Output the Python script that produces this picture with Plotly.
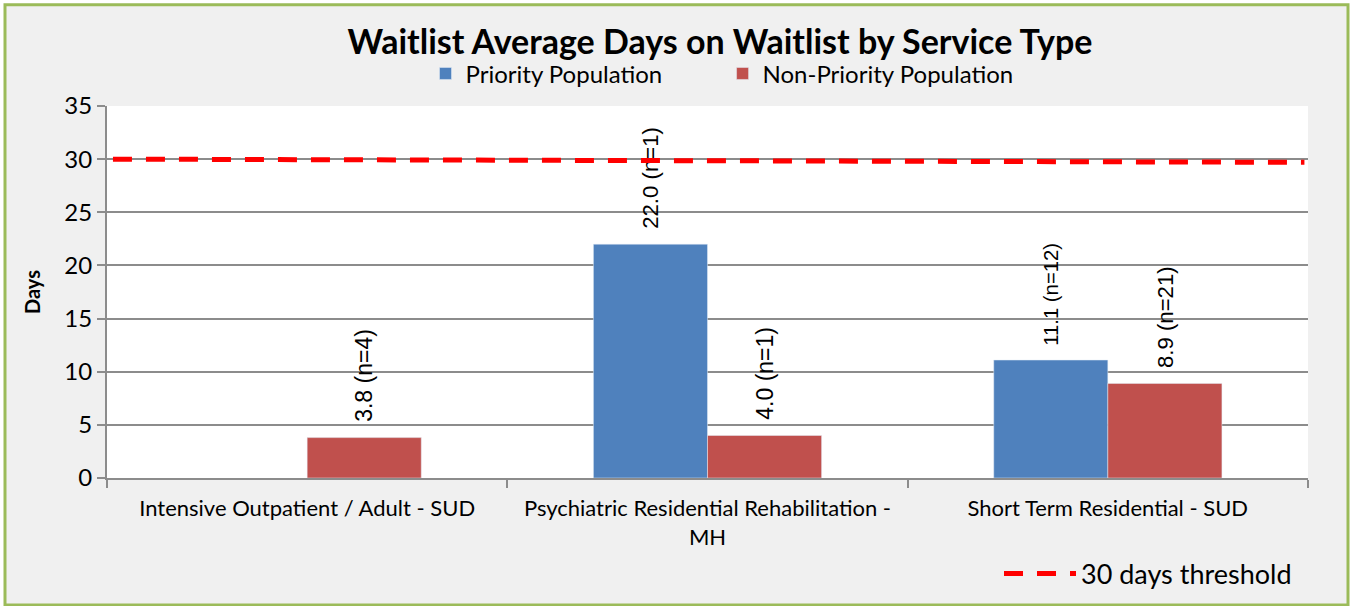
import plotly.graph_objects as go

# data
service_types = [
    "Intensive Outpatient / Adult - SUD",
    "Psychiatric Residential Rehabilitation -<br>MH",
    "Short Term Residential - SUD",
]
priority_days = [None, 22.0, 11.1]
priority_n = [None, 1, 12]
non_priority_days = [3.8, 4.0, 8.9]
non_priority_n = [4, 1, 21]
threshold_x = [0, 1]
threshold_days = [30.0, 29.7]

# target positions are measured on a 606px tall picture; the page is a bit taller
W, H = 1352, 611
SY = H / 606
L, R = 107, 44
T, B = round(105 * SY), round((606 - 477) * SY)
PW, PH = W - L - R, H - T - B
NBSP = "\u00a0"


def px_x(p):
    return (p - L) / PW


def px_y(p):
    return (H - B - p * SY) / PH


def make_labels(days, counts):
    return ["" if d is None else f"{NBSP * 2}{d:.1f} (n={n})" for d, n in zip(days, counts)]


label_font = dict(family="Liberation Sans, Arial", size=23, color="black")

fig = go.Figure()

fig.add_trace(go.Bar(
    name="Priority Population" + NBSP * 9, x=service_types, y=priority_days,
    marker_color="#4F81BD",
    text=make_labels(priority_days, priority_n),
    textposition="outside", textangle=-90, textfont=label_font,
    cliponaxis=False, legend="legend",
))
fig.add_trace(go.Bar(
    name="Non-Priority Population", x=service_types, y=non_priority_days,
    marker_color="#C0504D",
    text=make_labels(non_priority_days, non_priority_n),
    textposition="outside", textangle=-90, textfont=label_font,
    cliponaxis=False, legend="legend",
))
fig.add_trace(go.Scatter(
    name="30 days threshold", x=threshold_x, y=threshold_days,
    xaxis="x2", mode="lines",
    line=dict(color="#FF0000", width=5, dash="19px,14px"),
    legend="legend2",
))

fig.update_layout(
    width=W, height=H,
    margin=dict(l=L, r=R, t=T, b=B),
    paper_bgcolor="white",
    plot_bgcolor="white",
    font=dict(family="Lato", color="black"),
    title=dict(
        text="<b>Waitlist Average Days on Waitlist by Service Type</b>",
        x=px_x(720), xref="paper", xanchor="center",
        y=1 - 42 * SY / H, yanchor="middle",
        font=dict(size=34, family="Lato"),
    ),
    barmode="group", bargap=0.43, bargroupgap=0,
    xaxis=dict(
        showline=True, linecolor="#8C8C8C", linewidth=2,
        ticks="outside", tickson="boundaries", tickcolor="#8C8C8C",
        ticklen=8, tickwidth=2, ticklabelstandoff=10,
        tickfont=dict(size=22), showgrid=False, automargin=False,
    ),
    xaxis2=dict(overlaying="x", range=[-0.005, 1.003], visible=False),
    yaxis=dict(
        range=[0, 35], dtick=5,
        showline=True, linecolor="#8C8C8C", linewidth=2,
        ticks="outside", tickcolor="#8C8C8C", ticklen=8, tickwidth=2,
        showgrid=True, gridcolor="#8C8C8C", gridwidth=2,
        tickfont=dict(size=24), automargin=False,
        title=dict(text="<b>Days</b>", font=dict(size=20), standoff=18),
        zeroline=False,
    ),
    legend=dict(
        orientation="h", x=px_x(722), xanchor="center",
        y=px_y(73), yanchor="middle",
        font=dict(size=24), bgcolor="rgba(0,0,0,0)",
        itemwidth=30, traceorder="normal",
    ),
    legend2=dict(
        x=px_x(999), xanchor="left", y=px_y(573), yanchor="middle",
        font=dict(size=27), bgcolor="rgba(0,0,0,0)", itemwidth=72,
    ),
    shapes=[
        dict(type="rect", xref="paper", yref="paper",
             x0=px_x(5), x1=px_x(1348), y0=px_y(604), y1=px_y(4),
             fillcolor="#F0F0F0", line=dict(color="#9BBB59", width=3),
             layer="below"),
        dict(type="rect", xref="paper", yref="paper",
             x0=0, x1=1, y0=0, y1=1,
             fillcolor="white", line=dict(width=0), layer="below"),
    ],
)

page_fix = (
    "document.body.style.margin='0';"
    "document.body.style.overflow='hidden';"
    "document.documentElement.style.overflow='hidden';"
)
fig.write_html("out.html", config={"displayModeBar": False}, post_script=page_fix)
